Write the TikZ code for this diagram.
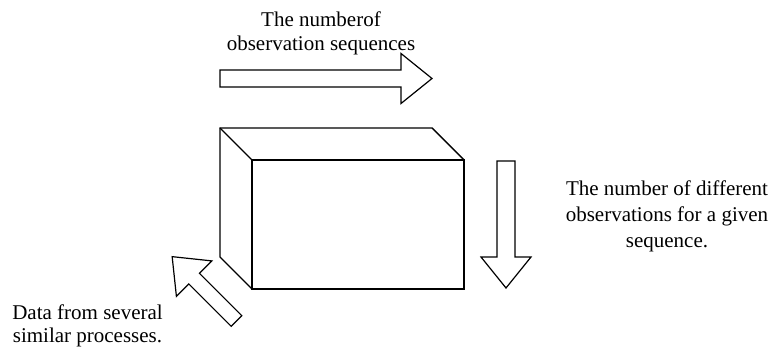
\documentclass[tikz,border=0pt]{standalone}
\usepackage{fontspec}
\setmainfont{Liberation Serif}
\usetikzlibrary{calc, positioning}

\begin{document}
\begin{tikzpicture}[x=1pt, y=1pt]
\def\depth{32}
\def\hl{31}
\def\hw{25}
\tikzset{lbl/.style={align=center, font=\fontsize{21}{#1}\selectfont}}

\useasboundingbox (0,0) rectangle (775,348);

% the data cube
\coordinate (F1) at (252,59);
\coordinate (F2) at (464,188);
\coordinate (B1) at ($(F1)+(-\depth,\depth)$);
\coordinate (B2) at ($(F2)+(-\depth,\depth)$);

\draw[line width=1.4pt] (F1) rectangle (F2);
\draw[line width=1.4pt] (F1) -- (B1) -- (B1 |- B2) -- (B2) -- (F2);
\draw[line width=1.4pt] (B1 |- B2) -- (F1 |- F2);

% block arrows: tail x/tail y/angle/length/half shaft
\foreach \tx/\ty/\ang/\len/\sw in {220/269.5/0/212/8.5, 506/187/-90/127/9, 236.5/27/135/91/7.5} {
  \begin{scope}[shift={(\tx,\ty)}, rotate=\ang]
    \draw[line width=1.2pt, fill=white, line join=miter]
      (0,-\sw) -- (\len-\hl,-\sw) -- (\len-\hl,-\hw) -- (\len,0)
      -- (\len-\hl,\hw) -- (\len-\hl,\sw) -- (0,\sw) -- cycle;
  \end{scope}
}

\node[lbl=24] (numseq) at (321,314.5) {The numberof\\observation sequences};
\node[lbl=26] (numobs) at (667,132) {The number of different\\observations for a given\\sequence.};
\node[lbl=23] (procdata) at (87.5,22.5) {Data from several\\similar processes.};

\end{tikzpicture}
\end{document}
